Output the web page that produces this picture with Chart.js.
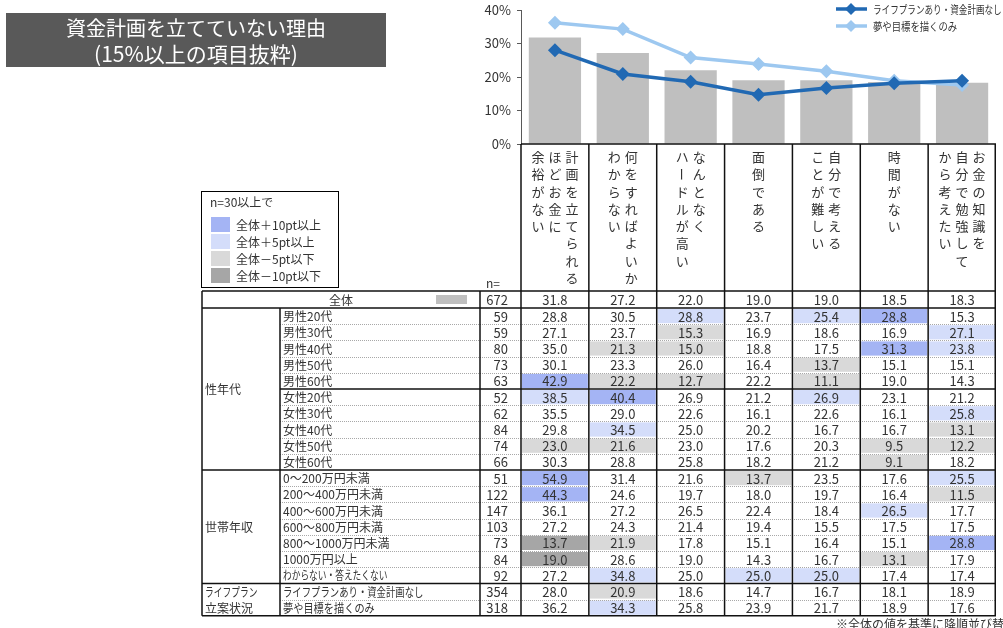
<!DOCTYPE html>
<html lang="ja">
<head>
<meta charset="utf-8">
<script src="https://cdn.jsdelivr.net/npm/chart.js@4.4.1/dist/chart.umd.min.js"></script>
<style>
  html, body { margin: 0; padding: 0; background: #fff; }
  #wrap { width: 1003px; height: 628px; overflow: hidden; }
</style>
</head>
<body>
<div id="wrap"><canvas id="reasonChart" width="1003" height="628"></canvas></div>
<script>
// header columns of each reason, written right-to-left as vertical text
const categories = [
  ['計画を立てられる', 'ほどお金に', '余裕がない'],
  ['何をすればよいか', 'わからない'],
  ['なんとなく', 'ハードルが高い'],
  ['面倒である'],
  ['自分で考える', 'ことが難しい'],
  ['時間がない'],
  ['お金の知識を', '自分で勉強して', 'から考えたい']
];

const totalN = 672;
const totalValues = [31.8, 27.2, 22.0, 19.0, 19.0, 18.5, 18.3];
const lifePlanNoBudget = [28.0, 20.9, 18.6, 14.7, 16.7, 18.1, 18.9];
const dreamOnly = [36.2, 34.3, 25.8, 23.9, 21.7, 18.9, 17.6];

const yTicks = [0, 10, 20, 30, 40];

const rowLabels = [
  '男性20代', '男性30代', '男性40代', '男性50代', '男性60代',
  '女性20代', '女性30代', '女性40代', '女性50代', '女性60代',
  '0～200万円未満', '200～400万円未満', '400～600万円未満', '600～800万円未満',
  '800～1000万円未満', '1000万円以上', 'わからない・答えたくない',
  'ライフプランあり・資金計画なし', '夢や目標を描くのみ'
];
const rowN = [59, 59, 80, 73, 63, 52, 62, 84, 74, 66, 51, 122, 147, 103, 73, 84, 92, 354, 318];
const rowValues = [
  [28.8, 30.5, 28.8, 23.7, 25.4, 28.8, 15.3],
  [27.1, 23.7, 15.3, 16.9, 18.6, 16.9, 27.1],
  [35.0, 21.3, 15.0, 18.8, 17.5, 31.3, 23.8],
  [30.1, 23.3, 26.0, 16.4, 13.7, 15.1, 15.1],
  [42.9, 22.2, 12.7, 22.2, 11.1, 19.0, 14.3],
  [38.5, 40.4, 26.9, 21.2, 26.9, 23.1, 21.2],
  [35.5, 29.0, 22.6, 16.1, 22.6, 16.1, 25.8],
  [29.8, 34.5, 25.0, 20.2, 16.7, 16.7, 13.1],
  [23.0, 21.6, 23.0, 17.6, 20.3, 9.5, 12.2],
  [30.3, 28.8, 25.8, 18.2, 21.2, 9.1, 18.2],
  [54.9, 31.4, 21.6, 13.7, 23.5, 17.6, 25.5],
  [44.3, 24.6, 19.7, 18.0, 19.7, 16.4, 11.5],
  [36.1, 27.2, 26.5, 22.4, 18.4, 26.5, 17.7],
  [27.2, 24.3, 21.4, 19.4, 15.5, 17.5, 17.5],
  [13.7, 21.9, 17.8, 15.1, 16.4, 15.1, 28.8],
  [19.0, 28.6, 19.0, 14.3, 16.7, 13.1, 17.9],
  [27.2, 34.8, 25.0, 25.0, 25.0, 17.4, 17.4],
  lifePlanNoBudget,
  dreamOnly
];
// group name lines, first row, last row
const groupNames = [['性年代'], ['世帯年収'], ['ライフプラン', '立案状況']];
const groupStart = [0, 10, 17];
const groupEnd = [9, 16, 18];
const solidAfter = [4, 9, 16]; // solid rules below these rows

const legendLabels = ['全体＋10pt以上', '全体＋5pt以上', '全体－5pt以下', '全体－10pt以下'];

const FONT = '"Noto Sans CJK JP", "Noto Sans", sans-serif';
const TEXT = '#333';
const BAR = '#bfbfbf';
const DARK = '#2169b3';
const LIGHT = '#9dc8f0';
const SHADES = ['#a4b4f4', '#d4ddfa', '#d9d9d9', '#a6a6a6'];

function shadeFor(v, base) {
  const d = Math.round((v - base) * 10) / 10;
  if (d >= 10) return SHADES[0];
  if (d >= 5) return SHADES[1];
  if (d <= -10) return SHADES[3];
  if (d <= -5) return SHADES[2];
  return null;
}

// kana in the original font are narrow, so squeeze them a bit
function narrowText(ctx, text, x, y) {
  let w = 0;
  for (const ch of text) {
    const m = ctx.measureText(ch).width;
    if (ch === '・') w += m * 0.4;
    else if (/[\u3040-\u30ff]/.test(ch)) w += m * 0.73;
    else w += m;
  }
  ctx.fillText(text, x, y, w);
}

const tablePlugin = {
  id: 'reasonTable',
  beforeDraw(chart) {
    const ctx = chart.ctx;
    ctx.save();
    ctx.fillStyle = '#fff';
    ctx.fillRect(0, 0, chart.width, chart.height);
    ctx.restore();
  },
  afterDraw(chart) {
    const ctx = chart.ctx;
    const xs = chart.scales.x;
    const area = chart.chartArea;
    const half = (xs.getPixelForValue(1) - xs.getPixelForValue(0)) / 2;
    const colL = i => xs.getPixelForValue(i) - half;
    const right = xs.getPixelForValue(categories.length - 1) + half;

    const left = 202, groupR = 280, labelR = 480;
    const top = 291, totalB = 308, rowH = 16.2;
    const bottom = totalB + rowLabels.length * rowH;
    const rowTop = r => totalB + r * rowH;

    ctx.save();

    // title box
    ctx.fillStyle = '#595959';
    ctx.fillRect(6, 13, 380, 54);
    ctx.fillStyle = '#fff';
    ctx.font = '20px ' + FONT;
    ctx.textAlign = 'center';
    ctx.textBaseline = 'middle';
    ctx.fillText('資金計画を立てていない理由', 196, 28);
    ctx.font = '21px ' + FONT;
    ctx.fillText('(15%以上の項目抜粋)', 196, 54);

    // line legend
    ctx.font = '11px ' + FONT;
    ctx.textAlign = 'left';
    [[DARK, 'ライフプランあり・資金計画なし', 9], [LIGHT, '夢や目標を描くのみ', 26]].forEach(([c, t, y]) => {
      ctx.strokeStyle = c;
      ctx.lineWidth = 3.5;
      ctx.beginPath();
      ctx.moveTo(836, y);
      ctx.lineTo(867, y);
      ctx.stroke();
      ctx.fillStyle = c;
      ctx.beginPath();
      ctx.moveTo(851, y - 6);
      ctx.lineTo(857, y);
      ctx.lineTo(851, y + 6);
      ctx.lineTo(845, y);
      ctx.closePath();
      ctx.fill();
      ctx.fillStyle = TEXT;
      narrowText(ctx, t, 873, y + 1);
    });

    // shading legend box
    ctx.strokeStyle = '#000';
    ctx.lineWidth = 1;
    ctx.strokeRect(201.5, 191.5, 137, 96);
    ctx.fillStyle = TEXT;
    ctx.font = '12px ' + FONT;
    ctx.fillText('n=30以上で', 210, 202);
    legendLabels.forEach((t, i) => {
      const y = 217 + i * 17;
      ctx.fillStyle = SHADES[i];
      ctx.fillRect(211, y, 19, 15);
      ctx.fillStyle = TEXT;
      ctx.fillText(t, 236, y + 8);
    });

    // vertical header text
    ctx.font = '13px ' + FONT;
    ctx.textAlign = 'center';
    ctx.fillStyle = TEXT;
    categories.forEach((cols, i) => {
      const cx = xs.getPixelForValue(i);
      cols.forEach((line, j) => {
        const x = cx + ((cols.length - 1) / 2 - j) * 17;
        Array.from(line).forEach((ch, k) => {
          const y = 157 + k * 17.3;
          if (ch === 'ー') {
            ctx.save();
            ctx.translate(x, y);
            ctx.rotate(Math.PI / 2);
            ctx.fillText(ch, 0, 0);
            ctx.restore();
          } else {
            ctx.fillText(ch, x, y);
          }
        });
      });
    });
    ctx.font = '12px ' + FONT;
    ctx.textAlign = 'left';
    ctx.fillText('n=', 486, 283);

    // cell shading
    rowValues.forEach((vals, r) => {
      vals.forEach((v, c) => {
        const s = shadeFor(v, totalValues[c]);
        if (s) {
          ctx.fillStyle = s;
          ctx.fillRect(colL(c) + 1, rowTop(r) + 1, half * 2 - 2, rowH - 2);
        }
      });
    });

    const numFont = '13px ' + FONT;
    const labFont = '12px ' + FONT;

    // total row
    ctx.fillStyle = BAR;
    ctx.fillRect(436, 295, 31, 9);
    ctx.fillStyle = TEXT;
    ctx.font = labFont;
    ctx.textAlign = 'center';
    const tY = (top + totalB) / 2 + 0.5;
    ctx.fillText('全体', (left + labelR) / 2, tY);
    ctx.font = numFont;
    ctx.textAlign = 'right';
    ctx.fillText(String(totalN), 508, tY);
    ctx.textAlign = 'center';
    totalValues.forEach((v, c) => ctx.fillText(v.toFixed(1), xs.getPixelForValue(c), tY));

    // body rows
    rowLabels.forEach((lab, r) => {
      const y = rowTop(r) + rowH / 2 + 0.5;
      ctx.font = labFont;
      ctx.textAlign = 'left';
      narrowText(ctx, lab, 283, y);
      ctx.font = numFont;
      ctx.textAlign = 'right';
      ctx.fillText(String(rowN[r]), 508, y);
      ctx.textAlign = 'center';
      rowValues[r].forEach((v, c) => ctx.fillText(v.toFixed(1), xs.getPixelForValue(c), y));
    });

    // group labels
    ctx.font = labFont;
    ctx.textAlign = 'left';
    groupNames.forEach((lines, g) => {
      const mid = (rowTop(groupStart[g]) + rowTop(groupEnd[g] + 1)) / 2;
      lines.forEach((t, k) => {
        narrowText(ctx, t, 205, mid + (k - (lines.length - 1) / 2) * rowH + 0.5);
      });
    });

    // dotted row rules
    ctx.strokeStyle = '#a8a8a8';
    ctx.lineWidth = 1;
    ctx.setLineDash([1, 1]);
    for (let r = 1; r < rowLabels.length; r++) {
      if (solidAfter.includes(r - 1)) continue;
      const y = Math.round(rowTop(r)) + 0.5;
      ctx.beginPath();
      ctx.moveTo(groupR, y);
      ctx.lineTo(right, y);
      ctx.stroke();
    }
    ctx.setLineDash([]);

    // solid rules
    ctx.strokeStyle = '#111';
    ctx.lineWidth = 1.5;
    const hLine = (x1, x2, y) => { ctx.beginPath(); ctx.moveTo(x1, y); ctx.lineTo(x2, y); ctx.stroke(); };
    const vLine = (x, y1, y2) => { ctx.beginPath(); ctx.moveTo(x, y1); ctx.lineTo(x, y2); ctx.stroke(); };
    hLine(area.left, right, area.bottom);
    hLine(left, right, top);
    hLine(left, right, totalB);
    solidAfter.forEach(r => hLine(r === 4 ? groupR : left, right, rowTop(r + 1)));
    hLine(left, right, bottom);
    vLine(left, top, bottom);
    vLine(groupR, totalB, bottom);
    vLine(labelR, top, bottom);
    for (let c = 0; c <= categories.length; c++) {
      const x = c === categories.length ? right - 0.75 : colL(c);
      vLine(x, area.bottom, bottom);
    }

    // footnote
    ctx.fillStyle = TEXT;
    ctx.font = '12px ' + FONT;
    ctx.textAlign = 'left';
    ctx.fillText('※全体の値を基準に降順並び替え', 836, 624);

    ctx.restore();
  }
};

new Chart(document.getElementById('reasonChart'), {
  type: 'bar',
  data: {
    labels: categories.map(c => c.join('')),
    datasets: [
      {
        type: 'line',
        label: 'ライフプランあり・資金計画なし',
        data: lifePlanNoBudget,
        borderColor: DARK,
        backgroundColor: DARK,
        borderWidth: 3.5,
        pointStyle: 'rectRot',
        pointRadius: 7,
        pointBorderWidth: 0,
        order: 0
      },
      {
        type: 'line',
        label: '夢や目標を描くのみ',
        data: dreamOnly,
        borderColor: LIGHT,
        backgroundColor: LIGHT,
        borderWidth: 3.5,
        pointStyle: 'rectRot',
        pointRadius: 7,
        pointBorderWidth: 0,
        order: 1
      },
      {
        label: '全体',
        data: totalValues,
        backgroundColor: BAR,
        barPercentage: 0.77,
        categoryPercentage: 1,
        order: 2
      }
    ]
  },
  options: {
    responsive: false,
    animation: false,
    devicePixelRatio: 1,
    layout: { padding: { left: 476, right: 1, top: 10, bottom: 484 } },
    plugins: { legend: { display: false }, tooltip: { enabled: false } },
    scales: {
      x: { display: false, offset: true },
      y: {
        min: 0,
        max: 40,
        afterBuildTicks: s => { s.ticks = yTicks.map(v => ({ value: v })); },
        ticks: { callback: v => v + '%', font: { family: FONT, size: 13 }, color: TEXT, padding: 6 },
        grid: { drawOnChartArea: false, tickLength: 4, color: '#595959' },
        border: { color: '#595959' },
        afterFit: s => { s.width = 45; s.paddingTop = 0; s.paddingBottom = 0; }
      }
    }
  },
  plugins: [tablePlugin]
});
</script>
</body>
</html>
